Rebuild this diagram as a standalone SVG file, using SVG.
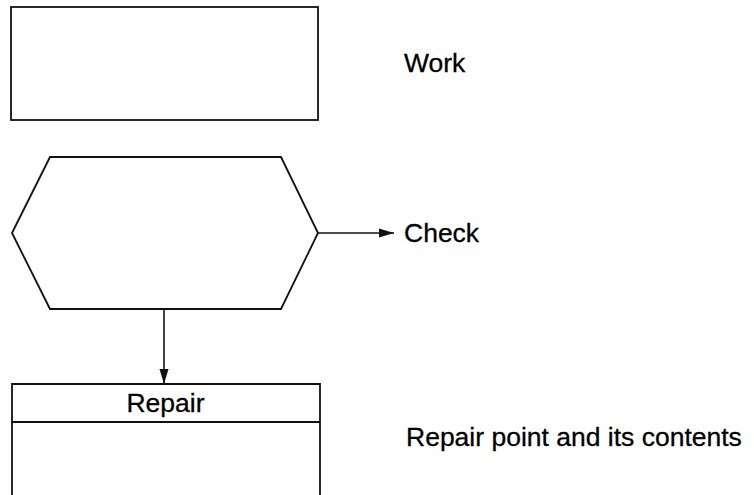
<svg xmlns="http://www.w3.org/2000/svg" width="754" height="495" viewBox="0 0 754 495">
<style>
.shape{fill:none;stroke:#111;stroke-width:1.8}
.conn{fill:none;stroke:#111;stroke-width:1.6}
.lbl{font-family:"Liberation Sans",Arial,sans-serif;font-size:26.5px;fill:#000;stroke:#000;stroke-width:0.3}
</style>
<defs>
<marker id="ah" markerWidth="15" markerHeight="10" refX="15" refY="5" orient="auto" markerUnits="userSpaceOnUse">
<path d="M0,0.5 L15,5 L0,9.5 Z" fill="#111"/>
</marker>
</defs>
<rect width="754" height="495" fill="#fff"/>
<g id="work">
<rect class="shape" x="11" y="7" width="307" height="113"/>
<text class="lbl" x="404" y="72">Work</text>
</g>
<g id="check">
<polygon class="shape" points="12,233 50,157 281,157 318,233 281,309 50,309"/>
<text class="lbl" x="404" y="242">Check</text>
</g>
<g id="repair">
<path class="shape" d="M12,496 L12,384 L320,384 L320,496"/>
<line class="shape" x1="12" y1="422" x2="320" y2="422"/>
<text class="lbl" x="165.5" y="412" text-anchor="middle">Repair</text>
<text class="lbl" x="406" y="446">Repair point and its contents</text>
</g>
<g id="connectors">
<line class="conn" x1="318" y1="233" x2="394" y2="233" marker-end="url(#ah)"/>
<line class="conn" x1="164" y1="309" x2="164" y2="384" marker-end="url(#ah)"/>
</g>
</svg>
